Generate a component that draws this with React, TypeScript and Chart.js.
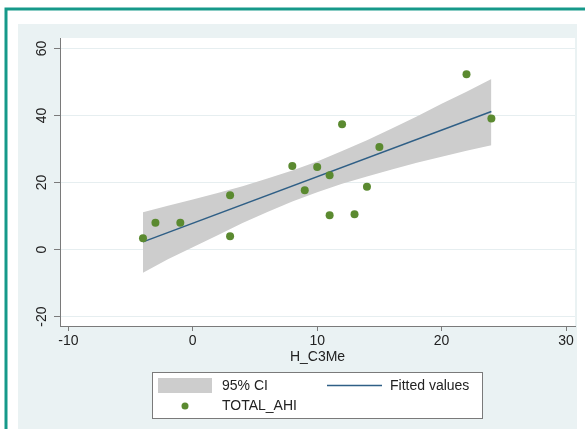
import React, { useEffect, useRef } from 'react';
import { Chart, registerables } from 'chart.js';

Chart.register(...registerables);

// Observed points (TOTAL_AHI vs H_C3Me)
const obsX = [-4, -3, -1, 3, 3, 8, 9, 10, 11, 12, 11, 13, 14, 15, 22, 24];
const obsY = [3.4, 8.0, 8.0, 4.0, 16.2, 24.9, 17.7, 24.6, 22.2, 37.4, 10.2, 10.5, 18.7, 30.6, 52.3, 39.1];

// Fitted values line (read at its two ends)
const fitX = [-4, 24];
const fitY = [2.3, 41.2];

// 95% CI band read along x
const ciX = [-4, -2, 0, 2, 4, 6, 8, 10, 12, 14, 16, 18, 20, 22, 24];
const ciUpper = [11.1, 13.1, 14.9, 16.9, 18.9, 21.2, 23.6, 26.3, 29.4, 32.6, 36.1, 39.7, 43.5, 47.1, 50.9];
const ciLower = [-6.9, -2.9, 0.7, 4.3, 7.9, 11.2, 14.3, 17.1, 19.6, 21.8, 23.9, 25.9, 27.7, 29.5, 31.1];

const xTicks = [-10, 0, 10, 20, 30];
const yTicks = [-20, 0, 20, 40, 60];
const xTitle = 'H_C3Me';
const legendLabels = ['95% CI', 'Fitted values', 'TOTAL_AHI'];

const FONT = '"Liberation Sans", Arial, Helvetica, sans-serif';
const TEXT = '#222222';
const GREEN = '#5b8a30';
const FITC = '#2f5f86';
const BAND = '#cdcdcd';
const AXIS = '#7a7a7a';

export default function App() {
  const ref = useRef<HTMLCanvasElement | null>(null);

  useEffect(() => {
    if (!ref.current) return;

    const bgPlugin = {
      id: 'statabg',
      beforeDraw(chart: any) {
        const { ctx, chartArea: a } = chart;
        ctx.save();
        ctx.fillStyle = '#ffffff';
        ctx.fillRect(0, 0, chart.width, chart.height);
        ctx.fillStyle = '#eaf2f3';
        ctx.fillRect(18, 24, 559, chart.height - 24);
        ctx.fillStyle = '#ffffff';
        ctx.fillRect(a.left, a.top, a.right - a.left, a.bottom - a.top);
        ctx.strokeStyle = '#16998a';
        ctx.lineWidth = 3;
        ctx.beginPath();
        ctx.moveTo(6, chart.height + 5);
        ctx.lineTo(6, 9);
        ctx.lineTo(chart.width + 5, 9);
        ctx.stroke();
        ctx.restore();
      },
      afterDraw(chart: any) {
        const { ctx } = chart;
        const ys = chart.scales.y;
        ctx.save();
        ctx.font = `14px ${FONT}`;
        ctx.fillStyle = TEXT;
        ctx.textAlign = 'center';
        ctx.textBaseline = 'middle';
        yTicks.forEach((v) => {
          const py = ys.getPixelForValue(v);
          ctx.save();
          ctx.translate(42.5, py);
          ctx.rotate(-Math.PI / 2);
          ctx.fillText(String(v), 0, 0);
          ctx.restore();
        });

        // Legend box
        ctx.fillStyle = '#ffffff';
        ctx.fillRect(152.5, 372.5, 330, 46);
        ctx.strokeStyle = AXIS;
        ctx.lineWidth = 1;
        ctx.strokeRect(152.5, 372.5, 330, 46);
        ctx.fillStyle = BAND;
        ctx.fillRect(158, 378, 54, 15);
        ctx.strokeStyle = FITC;
        ctx.lineWidth = 1.5;
        ctx.beginPath();
        ctx.moveTo(327, 385.5);
        ctx.lineTo(382, 385.5);
        ctx.stroke();
        ctx.fillStyle = GREEN;
        ctx.beginPath();
        ctx.arc(185, 406, 3.5, 0, Math.PI * 2);
        ctx.fill();
        ctx.fillStyle = TEXT;
        ctx.textAlign = 'left';
        ctx.fillText(legendLabels[0], 222, 386);
        ctx.fillText(legendLabels[1], 390, 386);
        ctx.fillText(legendLabels[2], 222, 406);
        ctx.restore();
      },
    };

    const chart = new Chart(ref.current, {
      type: 'line',
      data: {
        datasets: [
          {
            label: legendLabels[2],
            data: obsX.map((x, i) => ({ x, y: obsY[i] })),
            showLine: false,
            pointRadius: 4,
            pointBorderWidth: 0,
            pointBackgroundColor: GREEN,
            pointBorderColor: GREEN,
            order: 0,
          },
          {
            label: legendLabels[1],
            data: fitX.map((x, i) => ({ x, y: fitY[i] })),
            borderColor: FITC,
            borderWidth: 1.5,
            pointRadius: 0,
            fill: false,
            order: 1,
          },
          {
            label: legendLabels[0],
            data: ciX.map((x, i) => ({ x, y: ciUpper[i] })),
            borderColor: 'rgba(0,0,0,0)',
            borderWidth: 0,
            pointRadius: 0,
            backgroundColor: BAND,
            fill: 3,
            order: 2,
          },
          {
            label: 'lower',
            data: ciX.map((x, i) => ({ x, y: ciLower[i] })),
            borderColor: 'rgba(0,0,0,0)',
            borderWidth: 0,
            pointRadius: 0,
            fill: false,
            order: 3,
          },
        ],
      },
      options: {
        responsive: false,
        animation: false,
        layout: { padding: { top: 38, right: 10, left: 0, bottom: 0 } },
        plugins: {
          legend: { display: false },
          tooltip: { enabled: false },
        },
        scales: {
          x: {
            type: 'linear',
            min: -10.67,
            max: 30.72,
            afterBuildTicks: (s: any) => {
              s.ticks = xTicks.map((v) => ({ value: v }));
            },
            afterFit: (s: any) => {
              s.height = 103;
            },
            ticks: {
              font: { family: FONT, size: 14 },
              color: TEXT,
              padding: 2,
              maxRotation: 0,
              minRotation: 0,
            },
            grid: { drawOnChartArea: false, tickColor: AXIS, tickLength: 5 },
            border: { color: AXIS, width: 1 },
            title: {
              display: true,
              text: xTitle,
              color: TEXT,
              font: { family: FONT, size: 14 },
              padding: { top: 0, bottom: 63.6 },
            },
          },
          y: {
            type: 'linear',
            min: -22.8,
            max: 63.1,
            afterBuildTicks: (s: any) => {
              s.ticks = yTicks.map((v) => ({ value: v }));
            },
            afterFit: (s: any) => {
              s.width = 60;
            },
            ticks: { display: false },
            grid: { color: '#e6eef0', tickColor: AXIS, tickLength: 6 },
            border: { color: AXIS, width: 1 },
          },
        },
      },
      plugins: [bgPlugin],
    } as any);

    return () => chart.destroy();
  }, []);

  return (
    <div style={{ position: 'fixed', left: 0, top: 0, width: 585, height: 429 }}>
      <canvas ref={ref} width={585} height={429} />
    </div>
  );
}
